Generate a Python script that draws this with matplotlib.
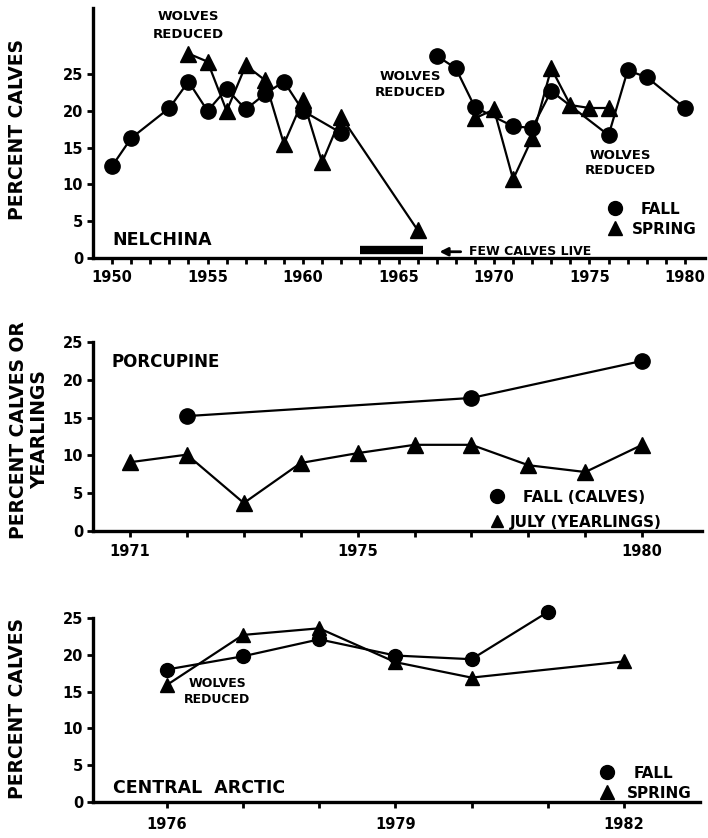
import numpy as np
import matplotlib
matplotlib.use("Agg")
import matplotlib.pyplot as plt
from matplotlib.ticker import FixedLocator

plt.rcParams['font.family'] = ['DejaVu Sans']
plt.rcParams['font.weight'] = 'bold'

# Nelchina herd
nel_fall_yr_a = [1950, 1951, 1953, 1954, 1955, 1956, 1957, 1958, 1959, 1960, 1962]
nel_fall_a = [12.5, 16.3, 20.4, 24.0, 20.0, 23.0, 20.2, 22.3, 24.0, 20.0, 17.0]
nel_fall_yr_b = [1967, 1968, 1969, 1971, 1972, 1973, 1976, 1977, 1978, 1980]
nel_fall_b = [27.5, 25.8, 20.5, 17.9, 17.7, 22.7, 16.7, 25.5, 24.6, 20.4]
nel_spring_yr_a = [1954, 1955, 1956, 1957, 1958, 1959, 1960, 1961, 1962, 1966]
nel_spring_a = [27.8, 26.7, 20.0, 26.2, 24.2, 15.5, 21.5, 13.0, 19.2, 3.8]
nel_spring_yr_b = [1969, 1970, 1971, 1972, 1973, 1974, 1975, 1976]
nel_spring_b = [19.0, 20.2, 10.7, 16.3, 25.8, 20.8, 20.4, 20.4]

# Porcupine herd
por_fall_yr = [1972, 1977, 1980]
por_fall = [15.2, 17.6, 22.5]
por_july_yr = [1971, 1972, 1973, 1974, 1975, 1976, 1977, 1978, 1979, 1980]
por_july = [9.1, 10.1, 3.7, 9.0, 10.3, 11.4, 11.4, 8.7, 7.8, 11.4]

# Central Arctic herd
ca_fall_yr = [1976, 1977, 1978, 1979, 1980, 1981]
ca_fall = [18.0, 19.8, 22.1, 19.9, 19.4, 25.8]
ca_spring_yr = [1976, 1977, 1978, 1979, 1980, 1982]
ca_spring = [15.9, 22.7, 23.6, 19.0, 16.9, 19.1]

W, H = 708, 838
fig = plt.figure(figsize=(W / 100, H / 100), dpi=100)


def px_axes(left, right, bottom, top):
    return fig.add_axes([left / W, (H - bottom) / H, (right - left) / W, (bottom - top) / H])


def style(ax, major, minor, xpad=6):
    for s in ['top', 'right']:
        ax.spines[s].set_visible(False)
    for s in ['left', 'bottom']:
        ax.spines[s].set_linewidth(2.4)
    ax.set_yticks([0, 5, 10, 15, 20, 25])
    ax.set_xticks(major)
    ax.xaxis.set_minor_locator(FixedLocator(minor))
    ax.tick_params(axis='both', which='both', direction='out', length=4, width=2)
    ax.tick_params(axis='x', which='major', labelsize=10.5, pad=xpad)
    ax.tick_params(axis='y', labelsize=10.5, pad=3)


def series(ax, x, y, marker, ms=11):
    ax.plot(x, y, color='black', lw=1.6, marker=marker, ms=ms, clip_on=False, zorder=3)


def key(ax, x, y, marker, label, tx, size=11, ms=10):
    ax.plot([x], [y], marker=marker, color='black', ms=ms, transform=ax.transAxes,
            clip_on=False, linestyle='none')
    ax.text(tx, y, label, transform=ax.transAxes, fontsize=size, va='center_baseline', ha='left')


# --- Nelchina ---
ax1 = px_axes(93, 705, 258, 8)
ax1.set_xlim(1949.0, 1981.05)
ax1.set_ylim(0, 34)
style(ax1, [1950, 1955, 1960, 1965, 1970, 1975, 1980], range(1950, 1981), xpad=5)
series(ax1, nel_fall_yr_a, nel_fall_a, 'o')
series(ax1, nel_fall_yr_b, nel_fall_b, 'o')
series(ax1, nel_spring_yr_a, nel_spring_a, '^')
series(ax1, nel_spring_yr_b, nel_spring_b, '^')
ax1.text(1954.0, 31.6, 'WOLVES\nREDUCED', ha='center', va='center', fontsize=9.5, linespacing=1.5)
ax1.text(1965.6, 23.6, 'WOLVES\nREDUCED', ha='center', va='center', fontsize=9.5, linespacing=1.25)
ax1.text(1976.6, 12.9, 'WOLVES\nREDUCED', ha='center', va='center', fontsize=9.5, linespacing=1.2)
ax1.text(0.031, 0.072, 'NELCHINA', transform=ax1.transAxes, fontsize=12.5, va='center')
ax1.plot([1963.0, 1966.3], [1.1, 1.1], color='black', lw=6, solid_capstyle='butt')
ax1.annotate('', xy=(1967.0, 0.85), xytext=(1968.4, 0.85),
             arrowprops=dict(arrowstyle='-|>', color='black', lw=2, mutation_scale=12))
ax1.text(1968.7, 0.85, 'FEW CALVES LIVE', fontsize=9, va='center', ha='left')
key(ax1, 0.853, 0.2, 'o', 'FALL', 0.894)
key(ax1, 0.853, 0.12, '^', 'SPRING', 0.881)

# --- Porcupine ---
ax2 = px_axes(93, 702, 531, 342)
ax2.set_xlim(1970.35, 1981.05)
ax2.set_ylim(0, 25)
style(ax2, [1971, 1975, 1980], range(1971, 1981), xpad=5)
series(ax2, por_fall_yr, por_fall, 'o')
series(ax2, por_july_yr, por_july, '^')
ax2.text(0.031, 0.894, 'PORCUPINE', transform=ax2.transAxes, fontsize=12, va='center')
key(ax2, 0.663, 0.185, 'o', 'FALL (CALVES)', 0.706)
key(ax2, 0.663, 0.055, '^', 'JULY (YEARLINGS)', 0.684, ms=9)

# --- Central Arctic ---
ax3 = px_axes(93, 700, 802, 618)
ax3.set_xlim(1975.03, 1983.0)
ax3.set_ylim(0, 25)
style(ax3, [1976, 1979, 1982], range(1976, 1983), xpad=7)
series(ax3, ca_fall_yr, ca_fall, 'o', ms=10)
series(ax3, ca_spring_yr, ca_spring, '^', ms=10)
ax3.text(1976.66, 15.0, 'WOLVES\nREDUCED', ha='center', va='center', fontsize=9, linespacing=1.3)
ax3.text(0.033, 0.076, 'CENTRAL  ARCTIC', transform=ax3.transAxes, fontsize=12.5, va='center')
key(ax3, 0.847, 0.163, 'o', 'FALL', 0.890)
key(ax3, 0.847, 0.055, '^', 'SPRING', 0.880)

# y axis titles
fig.text(18 / W, (H - 130) / H, 'PERCENT CALVES', rotation=90, ha='center', va='center', fontsize=13.5)
fig.text(29 / W, (H - 430) / H, 'PERCENT CALVES OR\nYEARLINGS', rotation=90, ha='center',
         va='center', fontsize=13.5, linespacing=1.1)
fig.text(18 / W, (H - 708) / H, 'PERCENT CALVES', rotation=90, ha='center', va='center', fontsize=13.5)

fig.savefig('out.png', dpi=100)
